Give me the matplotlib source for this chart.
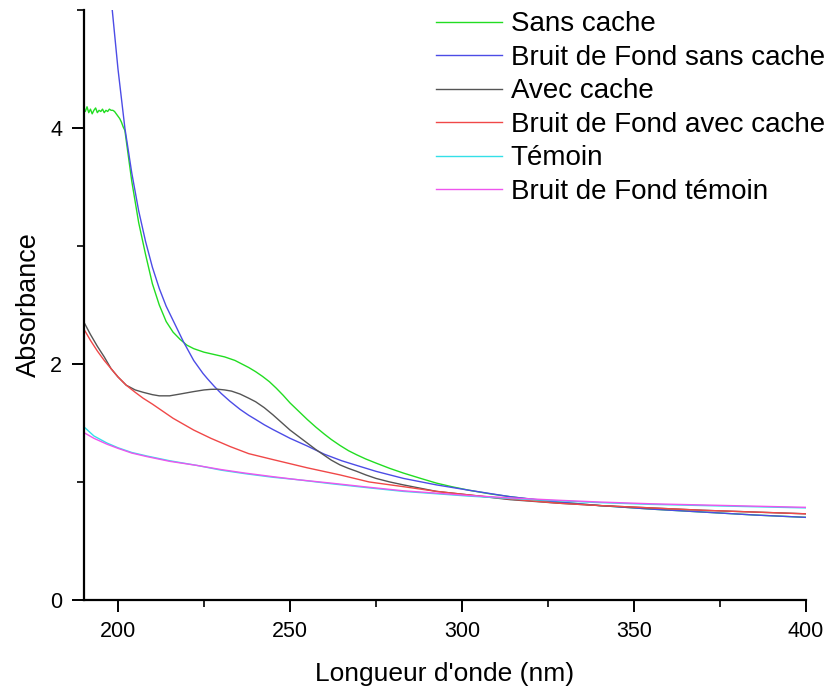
import matplotlib
matplotlib.use("Agg")
import matplotlib.pyplot as plt
from matplotlib.ticker import MultipleLocator

plt.rcParams['font.family'] = ['Liberation Sans', 'DejaVu Sans']

# Sans cache
sans_x = [190, 190.5, 191, 191.5, 192, 192.5, 193, 193.5, 194, 194.5, 195, 195.5, 196, 196.5,
          197, 197.5, 198, 198.5, 199, 199.5, 200, 200.5, 201, 201.5, 202, 204, 206, 208, 210,
          212, 214, 216, 218, 220, 222, 225, 228, 231, 234, 236, 238, 240, 242, 244, 246, 248,
          250, 252.5, 255, 257.5, 260, 262, 264.5, 267, 269.4, 272, 275, 279, 283, 288, 292.6,
          297, 302, 308, 314, 321, 328, 340, 355, 370, 385, 400]
sans_y = [4.17, 4.14, 4.18, 4.13, 4.16, 4.12, 4.15, 4.17, 4.13, 4.15, 4.14, 4.16, 4.13, 4.15,
          4.14, 4.16, 4.15, 4.15, 4.14, 4.12, 4.10, 4.08, 4.05, 4.01, 3.98, 3.55, 3.20, 2.93, 2.68,
          2.50, 2.36, 2.27, 2.21, 2.16, 2.13, 2.10, 2.08, 2.06, 2.03, 2.00, 1.97, 1.935, 1.895, 1.85,
          1.795, 1.735, 1.67, 1.60, 1.53, 1.465, 1.405, 1.36, 1.31, 1.265, 1.23, 1.195, 1.16, 1.115,
          1.075, 1.03, 0.99, 0.96, 0.93, 0.90, 0.875, 0.85, 0.83, 0.80, 0.77, 0.745, 0.72, 0.70]

# Bruit de Fond sans cache
bf_sans_x = [196, 198, 200, 202, 204, 206, 208, 210, 212, 214, 216, 218, 219, 222, 224.7, 226,
             228, 230, 232.5, 235.5, 238, 240, 242.5, 245, 250, 255, 260, 265, 269.4, 275, 283,
             292.6, 302, 314, 328, 340, 355, 370, 385, 400]
bf_sans_y = [5.9, 5.1, 4.5, 4.0, 3.62, 3.30, 3.04, 2.82, 2.64, 2.49, 2.37, 2.25, 2.19, 2.03, 1.92, 1.875,
             1.81, 1.75, 1.685, 1.615, 1.565, 1.53, 1.485, 1.445, 1.37, 1.305, 1.235, 1.18, 1.14, 1.09,
             1.03, 0.975, 0.93, 0.875, 0.83, 0.80, 0.77, 0.745, 0.72, 0.70]

# Avec cache
avec_x = [190, 192, 194, 196, 198, 200, 202.4, 205, 207.3, 210, 212, 215, 218, 221.8, 225, 227,
          229, 231, 233, 235.5, 238, 240, 242.5, 245, 247.5, 250, 252.5, 255, 257.5, 260, 262,
          264.5, 267, 269.4, 272, 275, 279, 283, 292.6, 302, 314, 328, 340, 355, 370, 385, 400]
avec_y = [2.36, 2.25, 2.15, 2.06, 1.96, 1.89, 1.82, 1.78, 1.76, 1.74, 1.73, 1.73, 1.745, 1.765, 1.78,
          1.785, 1.786, 1.78, 1.77, 1.745, 1.71, 1.68, 1.63, 1.57, 1.505, 1.44, 1.385, 1.33, 1.275,
          1.225, 1.185, 1.145, 1.115, 1.09, 1.06, 1.03, 1.00, 0.975, 0.92, 0.89, 0.85, 0.82,
          0.80, 0.78, 0.76, 0.745, 0.73]

# Bruit de Fond avec cache
bf_avec_x = [190, 192, 194, 196, 198, 200, 202.4, 205, 207.3, 210, 212, 216, 222, 227, 232.6, 238,
             245, 255, 264.5, 273, 283, 292.6, 302, 314, 328, 340, 355, 370, 385, 400]
bf_avec_y = [2.30, 2.20, 2.11, 2.03, 1.96, 1.89, 1.82, 1.76, 1.71, 1.66, 1.62, 1.54, 1.44, 1.37, 1.30, 1.24,
             1.19, 1.12, 1.06, 1.00, 0.96, 0.92, 0.89, 0.855, 0.82, 0.80, 0.78, 0.76, 0.745, 0.73]

# Témoin
temoin_x = [190, 193, 196.8, 200, 204, 208.4, 215, 223, 230, 237, 245, 252, 262, 273, 283, 292.6,
            302, 314, 328, 340, 355, 370, 385, 400]
temoin_y = [1.47, 1.39, 1.33, 1.29, 1.25, 1.22, 1.18, 1.14, 1.10, 1.07, 1.04, 1.02, 0.985, 0.95, 0.92, 0.90,
            0.88, 0.86, 0.84, 0.825, 0.81, 0.80, 0.79, 0.78]

# Bruit de Fond témoin
bf_temoin_x = [190, 193, 196.8, 200, 204, 208.4, 215, 223, 230, 237, 245, 252, 262, 273, 283, 292.6,
               302, 314, 328, 340, 355, 370, 385, 400]
bf_temoin_y = [1.42, 1.37, 1.32, 1.285, 1.245, 1.215, 1.175, 1.14, 1.105, 1.075, 1.045, 1.02, 0.99, 0.955,
               0.925, 0.905, 0.885, 0.865, 0.845, 0.83, 0.815, 0.805, 0.795, 0.785]

series = [
    ("Sans cache", sans_x, sans_y, "#22dd22"),
    ("Bruit de Fond sans cache", bf_sans_x, bf_sans_y, "#4c4ce6"),
    ("Avec cache", avec_x, avec_y, "#555555"),
    ("Bruit de Fond avec cache", bf_avec_x, bf_avec_y, "#f04848"),
    ("Témoin", temoin_x, temoin_y, "#33e0e8"),
    ("Bruit de Fond témoin", bf_temoin_x, bf_temoin_y, "#ee55ee"),
]

fig = plt.figure(figsize=(8.3, 6.96), dpi=100)
ax = fig.add_axes([0.1007, 0.138, 0.8705, 0.8476])

for label, xs, ys, c in series:
    ax.plot(xs, ys, color=c, lw=1.0, label=label)

ax.set_xlim(190, 400)
ax.set_ylim(0, 5)
ax.xaxis.set_major_locator(MultipleLocator(50))
ax.xaxis.set_minor_locator(MultipleLocator(25))
ax.yaxis.set_major_locator(MultipleLocator(2))
ax.yaxis.set_minor_locator(MultipleLocator(1))
ax.spines['top'].set_visible(False)
ax.spines['right'].set_visible(False)
for s in ['left', 'bottom']:
    ax.spines[s].set_linewidth(1.6)
ax.tick_params(which='major', direction='out', length=8.5, width=1.4, labelsize=15.5, pad=7)
ax.tick_params(which='minor', direction='out', length=5, width=1.2)
ax.set_xlabel("Longueur d'onde (nm)", fontsize=19, labelpad=14)
ax.set_ylabel("Absorbance", fontsize=19.5, labelpad=6)

leg = ax.legend(loc='upper right', bbox_to_anchor=(1.0036, 0.9957), bbox_transform=fig.transFigure,
                frameon=False, fontsize=20, handlelength=2.35, handletextpad=0.32,
                labelspacing=0.27, borderaxespad=0.1, borderpad=0.2)

fig.savefig("out.png", dpi=100)
